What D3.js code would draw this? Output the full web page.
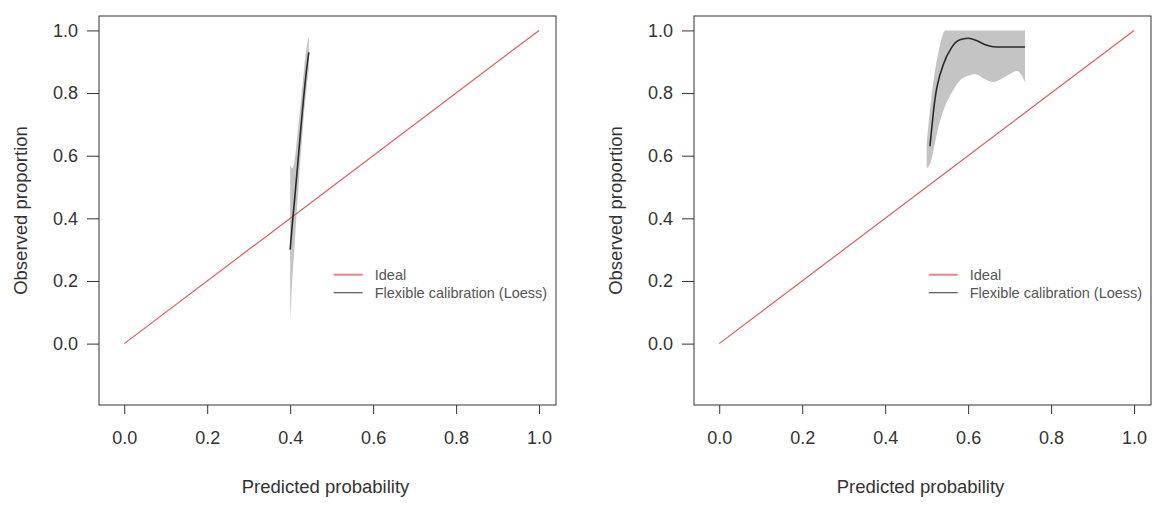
<!DOCTYPE html>
<html><head><meta charset="utf-8">
<script src="https://cdn.jsdelivr.net/npm/d3@7"></script>
<style>body{margin:0;background:#fff}svg{display:block}</style>
</head><body><svg id="c" width="1160" height="507"></svg>
<script>
// ---- data ----
const ticks = [0.0, 0.2, 0.4, 0.6, 0.8, 1.0];
const tickLabels = ["0.0", "0.2", "0.4", "0.6", "0.8", "1.0"];
const idealX = [0, 1];
const idealY = [0, 1];
const legendLabels = ["Ideal", "Flexible calibration (Loess)"];
const xTitle = "Predicted probability";
const yTitle = "Observed proportion";

// left panel loess
const leftLoessX = [0.400, 0.405, 0.410, 0.420, 0.430, 0.440, 0.445];
const leftLoessY = [0.30, 0.38, 0.45, 0.60, 0.75, 0.88, 0.93];
const leftBandX  = [0.400, 0.405, 0.410, 0.420, 0.430, 0.440, 0.445];
const leftBandLo = [0.07, 0.20, 0.30, 0.50, 0.68, 0.82, 0.88];
const leftBandHi = [0.57, 0.56, 0.58, 0.70, 0.83, 0.95, 0.98];

// right panel loess
const rightLoessX = [0.508, 0.52, 0.54, 0.56, 0.58, 0.60, 0.62, 0.64, 0.66, 0.68, 0.70, 0.72, 0.737];
const rightLoessY = [0.63, 0.78, 0.89, 0.945, 0.970, 0.975, 0.968, 0.955, 0.948, 0.947, 0.947, 0.947, 0.947];
const rightBandX  = [0.500, 0.510, 0.520, 0.530, 0.545, 0.560, 0.580, 0.600, 0.617, 0.640, 0.660, 0.680, 0.700, 0.718, 0.737];
const rightBandLo = [0.56, 0.58, 0.64, 0.70, 0.76, 0.80, 0.84, 0.855, 0.86, 0.845, 0.835, 0.845, 0.86, 0.87, 0.835];
const rightBandHi = [0.64, 0.77, 0.87, 0.94, 1.0, 1.0, 1.0, 1.0, 1.0, 1.0, 1.0, 1.0, 1.0, 1.0, 1.0];

// ---- drawing ----
const svg = d3.select("#c");
const FONT = "'Liberation Sans', Arial, Helvetica, sans-serif";
const AX = "#333";
const TXT = "#333";

function panel(left, loessX, loessY, bandX, bandLo, bandHi) {
  const w = 457, top = 16, bottom = 405;
  const x = d3.scaleLinear().domain([-0.0608, 1.0408]).range([left, left + w]);
  const y = d3.scaleLinear().domain([-0.196, 1.046]).range([bottom, top]);
  const g = svg.append("g");

  // CI band
  const band = bandX.map((v, i) => ({x: v, lo: bandLo[i], hi: bandHi[i]}));
  g.append("path").datum(band)
    .attr("d", d3.area().x(d => x(d.x)).y0(d => y(d.lo)).y1(d => y(d.hi)).curve(d3.curveMonotoneX))
    .attr("fill", "#c4c4c4").attr("stroke", "none");

  // ideal
  g.append("path").datum(idealX.map((v, i) => [v, idealY[i]]))
    .attr("d", d3.line().x(d => x(d[0])).y(d => y(d[1])))
    .attr("stroke", "#e05a5e").attr("stroke-width", 1.2).attr("fill", "none");

  // loess
  g.append("path").datum(loessX.map((v, i) => [v, loessY[i]]))
    .attr("d", d3.line().x(d => x(d[0])).y(d => y(d[1])).curve(d3.curveMonotoneX))
    .attr("stroke", "#2a2a2a").attr("stroke-width", 1.6).attr("fill", "none");

  // box
  g.append("rect").attr("x", left).attr("y", top).attr("width", w).attr("height", bottom - top)
    .attr("fill", "none").attr("stroke", AX).attr("stroke-width", 1);

  // axes
  const xa = g.append("g").attr("transform", `translate(0,${bottom})`)
    .call(d3.axisBottom(x).tickValues(ticks).tickFormat((d, i) => tickLabels[i]).tickSize(9).tickPadding(17));
  const ya = g.append("g").attr("transform", `translate(${left},0)`)
    .call(d3.axisLeft(y).tickValues(ticks).tickFormat((d, i) => tickLabels[i]).tickSize(12).tickPadding(9));
  [xa, ya].forEach(a => {
    a.select(".domain").remove();
    a.selectAll("line").attr("stroke", AX);
    a.selectAll("text").attr("font-family", FONT).attr("font-size", 18).attr("fill", TXT);
  });

  // titles
  g.append("text").attr("x", left + w / 2 - 2).attr("y", 493).attr("text-anchor", "middle")
    .attr("font-family", FONT).attr("font-size", 18.5).attr("fill", TXT).text(xTitle);
  g.append("text").attr("transform", `translate(${left - 72},${(top + bottom) / 2}) rotate(-90)`)
    .attr("text-anchor", "middle").attr("font-family", FONT).attr("font-size", 18.5).attr("fill", TXT).text(yTitle);

  // legend
  const lx = x(0.505), ly0 = y(0.22), dy = 18;
  const cols = ["#e88488", "#555"];
  legendLabels.forEach((t, i) => {
    g.append("line").attr("x1", lx).attr("x2", lx + 29).attr("y1", ly0 + i * dy).attr("y2", ly0 + i * dy)
      .attr("stroke", cols[i]).attr("stroke-width", i === 0 ? 2 : 1.2);
    g.append("text").attr("x", lx + 41).attr("y", ly0 + i * dy).attr("dy", "0.35em")
      .attr("font-family", FONT).attr("font-size", 14.5).attr("fill", "#555").text(t);
  });
}

panel(99, leftLoessX, leftLoessY, leftBandX, leftBandLo, leftBandHi);
panel(694, rightLoessX, rightLoessY, rightBandX, rightBandLo, rightBandHi);
</script>
</body></html>
